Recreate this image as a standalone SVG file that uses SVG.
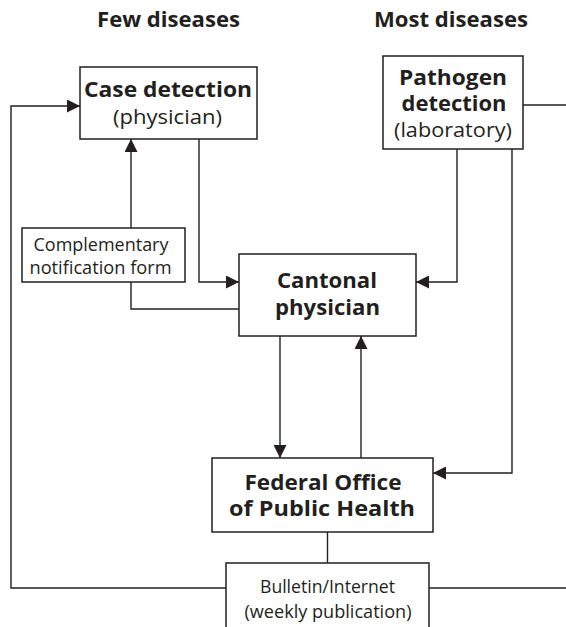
<svg xmlns="http://www.w3.org/2000/svg" width="566" height="627" viewBox="0 0 566 627">
<style>
  .box { fill: #ffffff; stroke: #231f20; stroke-width: 1.5; }
  .line { fill: none; stroke: #231f20; stroke-width: 1.4; }
  text { font-family: "Open Sans", "Liberation Sans", sans-serif; fill: #231f20; text-anchor: middle; }
  .title { font-weight: bold; font-size: 21px; }
  .b { font-weight: bold; font-size: 20.5px; }
  .r { font-size: 19.5px; }
  .rb { font-size: 18.5px; }
  .s { font-size: 17.5px; }
</style>
<defs>
  <marker id="arr" markerUnits="userSpaceOnUse" markerWidth="14" markerHeight="13" refX="13" refY="6.5" orient="auto">
    <path d="M0,0 L13,6.5 L0,13 Z" fill="#231f20"/>
  </marker>
</defs>
<rect width="566" height="627" fill="#ffffff"/>

<g id="titles">
  <text class="title" x="168.5" y="27" textLength="143" lengthAdjust="spacingAndGlyphs">Few diseases</text>
  <text class="title" x="451" y="27" textLength="154" lengthAdjust="spacingAndGlyphs">Most diseases</text>
</g>

<g id="connectors">
  <path class="line" d="M226,588 H11 V106 H80" marker-end="url(#arr)"/>
  <path class="line" d="M429,588 H566"/>
  <path class="line" d="M523,105 H566"/>
  <path class="line" d="M199,139 V282 H239" marker-end="url(#arr)"/>
  <path class="line" d="M131,228 V139" marker-end="url(#arr)"/>
  <path class="line" d="M131,282 V309 H239"/>
  <path class="line" d="M457,149 V282 H416" marker-end="url(#arr)"/>
  <path class="line" d="M512,149 V473 H433" marker-end="url(#arr)"/>
  <path class="line" d="M280,336 V458" marker-end="url(#arr)"/>
  <path class="line" d="M361,458 V336" marker-end="url(#arr)"/>
  <path class="line" d="M327.5,532 V563"/>
</g>

<g id="case-detection">
  <rect class="box" x="80" y="67" width="177" height="72"/>
  <text class="b" x="168" y="97" textLength="168" lengthAdjust="spacingAndGlyphs">Case detection</text>
  <text class="r" x="167.5" y="124" textLength="109" lengthAdjust="spacingAndGlyphs">(physician)</text>
</g>

<g id="pathogen-detection">
  <rect class="box" x="383" y="56" width="140" height="93"/>
  <text class="b" x="453" y="85" textLength="108" lengthAdjust="spacingAndGlyphs">Pathogen</text>
  <text class="b" x="454" y="111" textLength="105" lengthAdjust="spacingAndGlyphs">detection</text>
  <text class="r" x="453" y="137" textLength="118" lengthAdjust="spacingAndGlyphs">(laboratory)</text>
</g>

<g id="complementary-form">
  <rect class="box" x="22" y="228" width="163" height="54"/>
  <text class="s" x="101" y="251" textLength="135" lengthAdjust="spacingAndGlyphs">Complementary</text>
  <text class="s" x="100.5" y="274" textLength="142" lengthAdjust="spacingAndGlyphs">notification form</text>
</g>

<g id="cantonal-physician">
  <rect class="box" x="239" y="254" width="177" height="82"/>
  <text class="b" x="327" y="288" textLength="100" lengthAdjust="spacingAndGlyphs">Cantonal</text>
  <text class="b" x="327.5" y="315" textLength="105" lengthAdjust="spacingAndGlyphs">physician</text>
</g>

<g id="federal-office">
  <rect class="box" x="212" y="458" width="221" height="74"/>
  <text class="b" x="323" y="490" textLength="157" lengthAdjust="spacingAndGlyphs">Federal Office</text>
  <text class="b" x="322" y="516" textLength="186" lengthAdjust="spacingAndGlyphs">of Public Health</text>
</g>

<g id="bulletin">
  <path class="box" d="M226,630 V563 H429 V630"/>
  <text class="rb" x="327.5" y="593" textLength="135" lengthAdjust="spacingAndGlyphs">Bulletin/Internet</text>
  <text class="rb" x="328" y="618" textLength="167" lengthAdjust="spacingAndGlyphs">(weekly publication)</text>
</g>
</svg>
